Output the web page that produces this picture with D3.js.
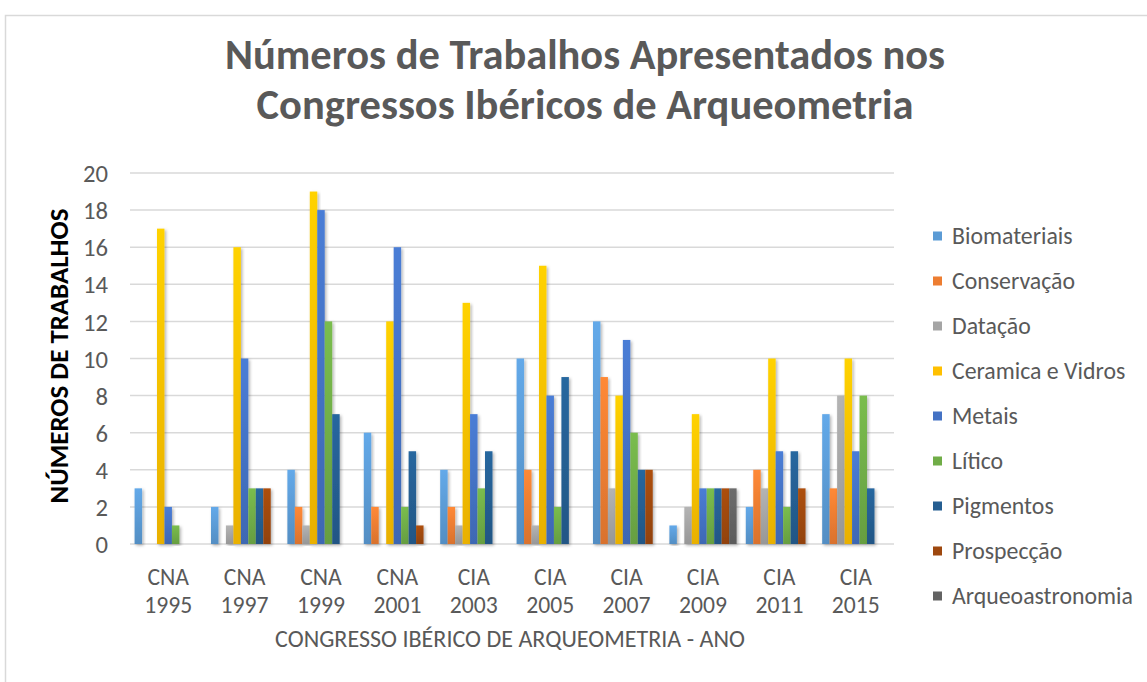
<!DOCTYPE html>
<html><head><meta charset="utf-8">
<script src="https://cdn.jsdelivr.net/npm/d3@7"></script>
<style>body{margin:0;background:#fff}svg{display:block}</style>
</head><body><svg id="c" width="1147" height="682"></svg>
<script>
const categories = ["CNA 1995","CNA 1997","CNA 1999","CNA 2001","CIA 2003","CIA 2005","CIA 2007","CIA 2009","CIA 2011","CIA 2015"];
const seriesNames = ["Biomateriais","Conservação","Datação","Ceramica e Vidros","Metais","Lítico","Pigmentos","Prospecção","Arqueoastronomia"];
const biomateriais    = [3, 2, 4, 6, 4, 10, 12, 1, 2, 7];
const conservacao     = [0, 0, 2, 2, 2, 4, 9, 0, 4, 3];
const datacao         = [0, 1, 1, 0, 1, 1, 3, 2, 3, 8];
const ceramica        = [17, 16, 19, 12, 13, 15, 8, 7, 10, 10];
const metais          = [2, 10, 18, 16, 7, 8, 11, 3, 5, 5];
const litico          = [1, 3, 12, 2, 3, 2, 6, 3, 2, 8];
const pigmentos       = [0, 3, 7, 5, 5, 9, 4, 3, 5, 3];
const prospeccao      = [0, 3, 0, 1, 0, 0, 4, 3, 3, 0];
const arqueoastronomia= [0, 0, 0, 0, 0, 0, 0, 3, 0, 0];
const yTicks = [0,2,4,6,8,10,12,14,16,18,20];
const colors = ["#5B9BD5","#ED7D31","#A5A5A5","#FFC000","#4472C4","#70AD47","#255E91","#9E480E","#636363"];
const titleLines = ["Números de Trabalhos  Apresentados nos","Congressos Ibéricos de Arqueometria"];
const yTitle = "NÚMEROS DE TRABALHOS";
const xTitle = "CONGRESSO IBÉRICO DE ARQUEOMETRIA - ANO";

const seriesValues = [biomateriais, conservacao, datacao, ceramica, metais, litico, pigmentos, prospeccao, arqueoastronomia];
const svg = d3.select("#c");
const FONT = "Carlito, Lato, 'Open Sans', sans-serif";
const TXT = "#595959";

// frame
svg.append("path").attr("d","M5.5,682 V15.5 H1147").attr("fill","none").attr("stroke","#D9D9D9").attr("stroke-width",1.5);

function fit(sel, target){
  const w = sel.node().getComputedTextLength();
  const fs = parseFloat(sel.attr("font-size"));
  sel.attr("font-size", fs*target/w);
}

// title
const tw = [720, 657];
titleLines.forEach((t,i)=>{
  const s = svg.append("text").attr("x",585).attr("y",[69,119][i]).attr("text-anchor","middle")
    .attr("font-family",FONT).attr("font-weight","bold").attr("font-size",36).attr("fill",TXT).text(t);
  fit(s, tw[i]);
});

const x0 = d3.scaleBand().domain(categories).range([130, 894]).paddingInner(0.12).paddingOuter(0.06);
const x1 = d3.scaleBand().domain(seriesNames).range([0, x0.bandwidth()]);
const y = d3.scaleLinear().domain([0,20]).range([544,173]);

// defs: gradients + shadow
const defs = svg.append("defs");
colors.forEach((c,i)=>{
  const g = defs.append("linearGradient").attr("id","g"+i).attr("x1",0).attr("y1",0).attr("x2",0).attr("y2",1);
  g.append("stop").attr("offset","0%").attr("stop-color", d3.color(c).brighter(0.25));
  g.append("stop").attr("offset","100%").attr("stop-color", d3.color(c).darker(0.25));
});
const f = defs.append("filter").attr("id","sh").attr("x","-50%").attr("y","-10%").attr("width","200%").attr("height","120%");
f.append("feDropShadow").attr("dx",1.5).attr("dy",1.5).attr("stdDeviation",1.5).attr("flood-color","#000").attr("flood-opacity",0.3);

// gridlines
const grid = svg.append("g");
grid.selectAll("line").data(yTicks).join("line")
  .attr("x1",130).attr("x2",894).attr("y1",d=>y(d)).attr("y2",d=>y(d))
  .attr("stroke","#D9D9D9").attr("stroke-width",1.5);

// y axis labels
const yAxis = d3.axisLeft(y).tickValues(yTicks).tickSize(0).tickPadding(0);
const ya = svg.append("g").attr("transform","translate(108,0)").call(yAxis);
ya.select(".domain").remove();
ya.selectAll("text").attr("font-family",FONT).attr("font-size",24).attr("fill",TXT).attr("dy","0.35em");
const t20 = ya.selectAll("text").filter(d=>d===20);
const ysc = 25 / t20.node().getComputedTextLength();
ya.selectAll("text").attr("font-size", 24*ysc);

// bars
const groups = svg.append("g").selectAll("g").data(categories).join("g")
  .attr("transform", d=>`translate(${x0(d)},0)`);
groups.selectAll("rect").data((d,ci)=>seriesNames.map((s,si)=>({s, si, v: seriesValues[si][ci]})).filter(e=>e.v>0))
  .join("rect")
  .attr("x", e=>x1(e.s)).attr("width", x1.bandwidth())
  .attr("y", e=>y(e.v)).attr("height", e=>y(0)-y(e.v))
  .attr("fill", e=>`url(#g${e.si})`).attr("filter","url(#sh)");

// x labels
const xl = svg.append("g");
categories.forEach(c=>{
  const [a,b] = c.split(" ");
  const cx = x0(c) + x0.bandwidth()/2;
  xl.append("text").attr("x",cx).attr("y",585).attr("text-anchor","middle").attr("font-family",FONT).attr("font-size",24).attr("fill",TXT).text(a);
  xl.append("text").attr("x",cx).attr("y",613).attr("text-anchor","middle").attr("font-family",FONT).attr("font-size",24).attr("fill",TXT).text(b);
});
const xsc = 48 / xl.selectAll("text").filter((d,i)=>i===1).node().getComputedTextLength();
xl.selectAll("text").attr("font-size", 24*xsc);

// axis titles
const xt = svg.append("text").attr("x",510).attr("y",647).attr("text-anchor","middle").attr("font-family",FONT).attr("font-size",18).attr("fill",TXT).text(xTitle);
fit(xt, 470);
const yt = svg.append("text").attr("transform","translate(68,356) rotate(-90)").attr("text-anchor","middle")
  .attr("font-family",FONT).attr("font-weight","bold").attr("font-size",19).attr("fill","#000").text(yTitle);
fit(yt, 295);

// legend
const lg = svg.append("g");
seriesNames.forEach((s,i)=>{
  const yy = 236 + i*45;
  lg.append("rect").attr("x",933).attr("y",yy-4.5).attr("width",9).attr("height",9).attr("fill",colors[i]);
  lg.append("text").attr("x",952).attr("y",yy).attr("dy","0.35em").attr("font-family",FONT).attr("font-size",19).attr("fill",TXT).text(s);
});
const lt = lg.selectAll("text").filter((d,i)=>i===8);
const sc = 181 / lt.node().getComputedTextLength();
lg.selectAll("text").attr("font-size", 19*sc);
</script></body></html>
